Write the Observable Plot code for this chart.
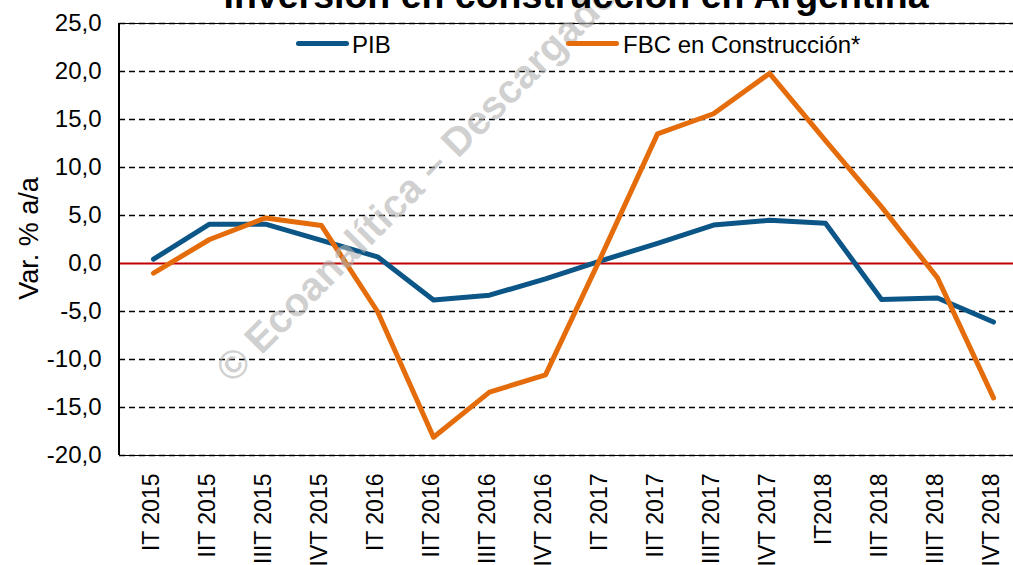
<!DOCTYPE html>
<html>
<head>
<meta charset="utf-8">
<script src="https://cdn.jsdelivr.net/npm/d3@7"></script>
<script src="https://cdn.jsdelivr.net/npm/@observablehq/plot@0.6"></script>
<style>
  body { margin: 0; background: #fff; font-family: "Liberation Sans", Arial, sans-serif; }
  #wrap { position: relative; width: 1013px; height: 565px; overflow: hidden; background: #fff; }
  .leg { position: absolute; top: 0; left: 0; width: 1013px; height: 0; }
  .sw { position: absolute; height: 5px; border-radius: 3px; }
  .lt { position: absolute; font-size: 24px; color: #000; white-space: nowrap; line-height: 1; }
</style>
</head>
<body>
<div id="wrap"></div>
<script>
const title = "Inversión en construcción en Argentina";
const yLabel = "Var. % a/a";
const watermark = "© Ecoanalítica – Descargado por";
const quarters = ["IT 2015","IIT 2015","IIIT 2015","IVT 2015","IT 2016","IIT 2016","IIIT 2016","IVT 2016",
                  "IT 2017","IIT 2017","IIIT 2017","IVT 2017","IT2018","IIT 2018","IIIT 2018","IVT 2018"];
const seriesNames = ["PIB", "FBC en Construcción*"];
const pib = [0.45, 4.1, 4.1, 2.4, 0.7, -3.8, -3.3, -1.6, 0.3, 2.1, 4.0, 4.5, 4.2, -3.75, -3.6, -6.1];
const fbc = [-1.0, 2.5, 4.75, 3.95, -5.0, -18.1, -13.4, -11.6, 0.8, 13.5, 15.6, 19.8, 12.8, 5.9, -1.5, -14.0];
const yTicks = [-20, -15, -10, -5, 0, 5, 10, 15, 20, 25];
const colors = ["#0B5587", "#E46C0A"];

const data = [
  ...quarters.map((q, i) => ({q, v: pib[i], s: seriesNames[0]})),
  ...quarters.map((q, i) => ({q, v: fbc[i], s: seriesNames[1]}))
];

const fmt = d => d.toFixed(1).replace(".", ",");

const chart = Plot.plot({
  width: 1013,
  height: 565,
  marginLeft: 119,
  marginRight: 0,
  marginTop: 23,
  marginBottom: 110,
  style: { fontFamily: "Liberation Sans, Arial, sans-serif", color: "#000", background: "transparent" },
  x: { type: "point", domain: quarters, range: [147.3, 997.7], padding: 0, tickSize: 0, tickRotate: -90, tickPadding: 18, label: null },
  y: { domain: [-20, 25], ticks: yTicks, tickSize: 0, tickPadding: 18, tickFormat: fmt, label: null },
  color: { domain: seriesNames, range: colors },
  marks: [
    Plot.ruleY(yTicks.filter(v => v !== 0), { stroke: "#000", strokeWidth: 1.6, strokeDasharray: "6,4" }),
    Plot.ruleY([yTicks[0], yTicks[yTicks.length - 1]], { stroke: "#000", strokeWidth: 1 }),
    Plot.ruleY([0], { stroke: "#C00000", strokeWidth: 2 }),
    Plot.line(data, { x: "q", y: "v", stroke: "s", strokeWidth: 5, strokeLinecap: "round" }),
    Plot.text([watermark], { frameAnchor: "top-left", dx: 113, dy: 361, rotate: -45, textAnchor: "start", lineAnchor: "bottom",
      fontSize: 40, fontWeight: "bold", fill: "#b0b0b0", fillOpacity: 0.6 }),
    Plot.text([title], { frameAnchor: "top", dx: 9.5, dy: -15.5, lineAnchor: "bottom", fontSize: 37.5, fontWeight: "bold", fill: "#000" }),
    Plot.text([yLabel], { frameAnchor: "left", dx: -82, dy: -1, rotate: -90, textAnchor: "middle", lineAnchor: "bottom", fontSize: 27, fill: "#000" })
  ]
});

const wrap = document.getElementById("wrap");
wrap.appendChild(chart);

const svg = d3.select(chart.tagName.toLowerCase() === "svg" ? chart : chart.querySelector("svg"));
svg.selectAll('[aria-label^="y-axis"] text').attr("font-size", 24).style("font-size", "24px");
svg.selectAll('[aria-label^="x-axis"] text')
  .attr("font-size", 23).style("font-size", "23px")
  .style("font-weight", "normal").style("stroke", "none");
svg.selectAll('[aria-label^="x-axis"]').each(function() {
  const t = this.getAttribute("transform") || "";
  this.setAttribute("transform", ("translate(-2,0) " + t).trim());
});

// left axis line
const ys = chart.scale("y");
svg.append("line")
  .attr("x1", 119).attr("x2", 119)
  .attr("y1", ys.apply(yTicks[yTicks.length - 1])).attr("y2", ys.apply(yTicks[0]))
  .attr("stroke", "#000").attr("stroke-width", 2);

// legend overlay
const leg = document.createElement("div");
leg.className = "leg";
const legPos = [{sx: 296, tx: 352}, {sx: 566, tx: 623}];
seriesNames.forEach((name, i) => {
  const sw = document.createElement("div");
  sw.className = "sw";
  sw.style.left = legPos[i].sx + "px";
  sw.style.top = "41px";
  sw.style.width = "53px";
  sw.style.background = colors[i];
  leg.appendChild(sw);
  const t = document.createElement("div");
  t.className = "lt";
  t.style.left = legPos[i].tx + "px";
  t.style.top = "33px";
  t.textContent = name;
  leg.appendChild(t);
});
wrap.appendChild(leg);
</script>
</body>
</html>
